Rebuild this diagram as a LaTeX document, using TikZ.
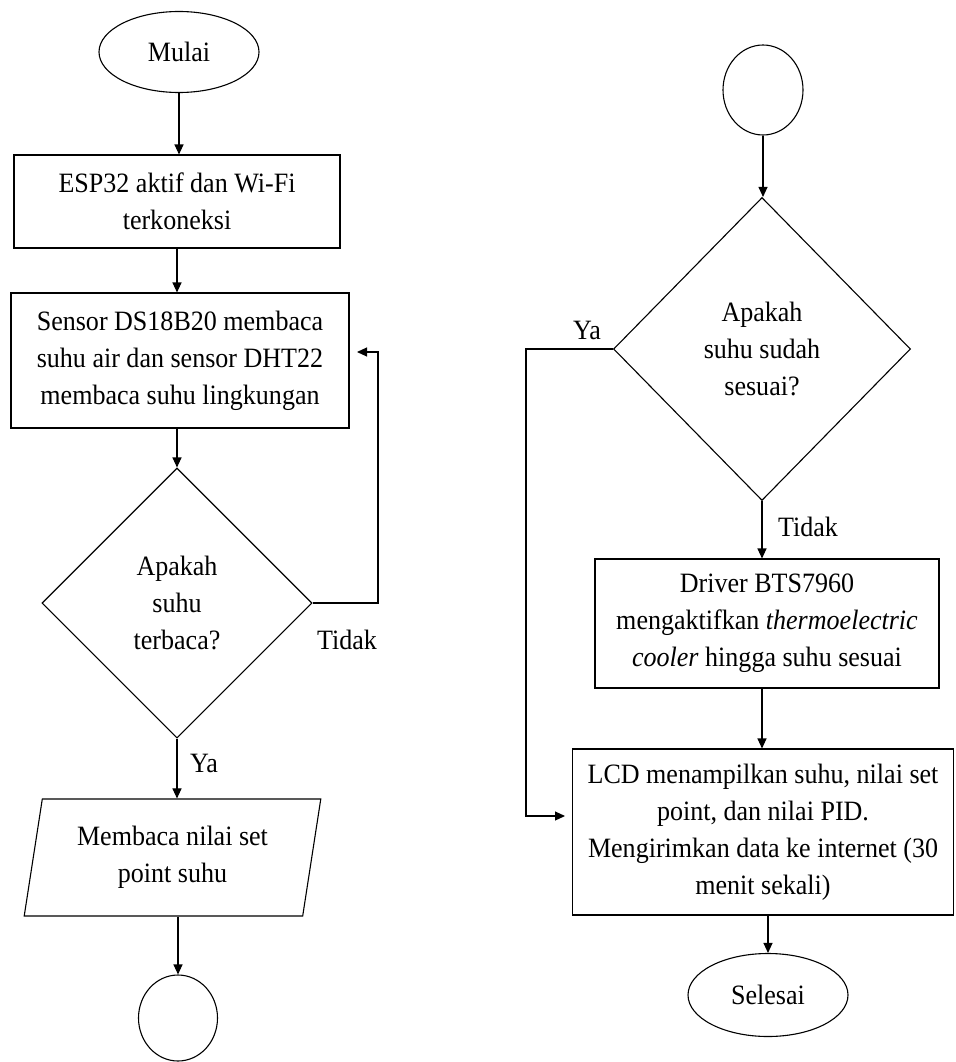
\documentclass[tikz,border=0pt]{standalone}
\usepackage{fontspec}
\setmainfont{Liberation Serif}[FakeStretch=0.93]
\usetikzlibrary{shapes.geometric,arrows.meta}
\begin{document}
\begin{tikzpicture}[x=1pt,y=-1pt,line width=1.1pt,
  every node/.style={font=\fontsize{28}{37}\selectfont,inner sep=0pt,align=center},
  boxnode/.style={draw,rectangle},
  termnode/.style={draw,ellipse},
  connode/.style={draw,ellipse},
  decnode/.style={draw,diamond,aspect=1},
  ionode/.style={draw,trapezium,trapezium left angle=78,trapezium right angle=102,trapezium stretches=true},
  arr/.style={-{Triangle[length=10pt,width=9pt]}}]
\useasboundingbox (0,0) rectangle (955,1062);

% left column
\node[termnode,minimum width=160pt,minimum height=81pt] (mulai) at (179,52) {Mulai};
\node[boxnode,minimum width=326pt,minimum height=93pt] (esp) at (177,201.5) {ESP32 aktif dan Wi-Fi\\terkoneksi};
\node[boxnode,minimum width=338pt,minimum height=135pt] (sensor) at (180,360.5) {Sensor DS18B20 membaca\\suhu air dan sensor DHT22\\membaca suhu lingkungan};
\node[decnode,minimum width=270pt,minimum height=270pt] (d1) at (177,603) {Apakah\\suhu\\terbaca?};
\node[ionode,minimum width=297pt,minimum height=117pt] (para) at (172.5,857.5) {Membaca nilai set\\point suhu};
\node[connode,minimum width=79pt,minimum height=86pt] (c1) at (178,1018) {};
\node (t1) at (347,640) {Tidak};
\node (y1) at (204,763) {Ya};
\coordinate (lp1) at (378,352);
\coordinate (lp2) at (357,352);

\draw[arr] (mulai.south) -- (mulai.south |- esp.north);
\draw[arr] (esp.south) -- (esp.south |- sensor.north);
\draw[arr] (sensor.south -| d1.north) -- (d1.north);
\draw[arr] (d1.east) -| (lp1) -- (lp2);
\draw[arr] (d1.south) -- (d1.south |- para.north);
\draw[arr] (para.south -| c1.north) -- (c1.north);

% right column
\node[connode,minimum width=80pt,minimum height=90pt] (c2) at (763,90) {};
\node[decnode,minimum width=297pt,minimum height=303pt] (d2) at (762,349) {Apakah\\suhu sudah\\sesuai?};
\node[boxnode,minimum width=344pt,minimum height=129pt] (drv) at (767,623.5) {Driver BTS7960\\mengaktifkan \textit{thermoelectric}\\\textit{cooler} hingga suhu sesuai};
\node[boxnode,minimum width=381pt,minimum height=166pt] (lcd) at (763,832) {LCD menampilkan suhu, nilai set\\point, dan nilai PID.\\Mengirimkan data ke internet (30\\menit sekali)};
\node[termnode,minimum width=160pt,minimum height=83pt] (sel) at (768,995) {Selesai};
\node (y2) at (587,330) {Ya};
\node (t2) at (808,527) {Tidak};
\coordinate (yb1) at (526,816);
\coordinate (yb2) at (565,816);

\draw[arr] (c2.south) -- (c2.south |- d2.north);
\draw[arr] (d2.south) -- (d2.south |- drv.north);
\draw[arr] (drv.south -| d2.south) -- (d2.south |- lcd.north);
\draw[arr] (d2.west) -| (yb1) -- (yb2);
\draw[arr] (lcd.south -| sel.north) -- (sel.north);
\end{tikzpicture}
\end{document}
